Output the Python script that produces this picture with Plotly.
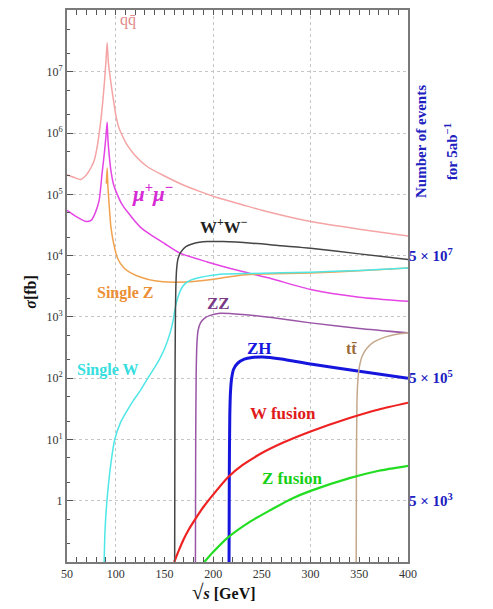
import math
import plotly.graph_objects as go

# ---------------- data ----------------
qq_x = [50, 57, 64, 70, 75, 78, 81, 84, 86.5, 88.5, 90, 91.2, 92.5, 94, 96, 98, 100, 103, 107, 112, 119, 133, 150, 170, 186, 204, 230, 250, 300, 350, 400]
qq_y = [2.1e5, 1.9e5, 1.75e5, 2.1e5, 2.8e5, 3.6e5, 6e5, 1.3e6, 3e6, 7e6, 1.5e7, 3e7, 1.4e7, 8.9e6, 5.2e6, 3.2e6, 2.0e6, 1.26e6, 8.9e5, 6.3e5, 4.5e5, 2.8e5, 2.0e5, 1.41e5, 1.12e5, 8.9e4, 6.8e4, 5.5e4, 3.6e4, 2.7e4, 2.1e4]

mm_x = [50, 60, 70, 75, 79, 83, 86, 88.5, 90, 91.2, 92, 93, 95, 98, 101, 106, 112, 125, 135, 150, 166, 194, 228, 260, 300, 350, 400]
mm_y = [5.5e4, 4.3e4, 3.6e4, 3.8e4, 5e4, 8e4, 2.2e5, 5e5, 9e5, 1.5e6, 7.9e5, 5e5, 2.5e5, 1.41e5, 1.05e5, 7.1e4, 5.2e4, 2.95e4, 2.24e4, 1.58e4, 1.1e4, 7.9e3, 5.6e3, 4.2e3, 2.8e3, 2.1e3, 1.8e3]

sz_x = [90.4, 91.2, 92, 93, 95, 98, 102, 108.5, 115, 125, 140, 160, 180, 204, 228, 250, 300, 350, 400]
sz_y = [1.5e5, 2.7e5, 1.3e5, 7.8e4, 3e4, 1.55e4, 9e3, 6.3e3, 5.3e3, 4.5e3, 3.9e3, 3.7e3, 3.8e3, 4.2e3, 4.8e3, 5.0e3, 5.2e3, 5.7e3, 6.3e3]

sw_x = [88, 89, 91, 95, 99, 105, 112, 118, 125, 132, 140, 145, 150, 156, 159, 161, 164, 167, 171, 177, 185, 195, 210, 240, 300, 350, 400]
sw_y = [0.08, 0.32, 1.0, 4.0, 10, 19, 30, 43, 62, 95, 150, 205, 300, 560, 890, 1410, 2140, 2820, 3470, 3980, 4370, 4680, 5010, 5130, 5370, 5750, 6310]

ww_x = [160.5, 160.8, 161.2, 161.7, 162.5, 164, 167, 172, 180, 194, 210, 240, 270, 300, 350, 400]
ww_y = [0.08, 50, 800, 3000, 6000, 9000, 1.15e4, 1.4e4, 1.58e4, 1.7e4, 1.7e4, 1.6e4, 1.45e4, 1.32e4, 1.07e4, 8.7e3]

zz_x = [181.8, 182.1, 182.6, 183.3, 184.5, 187, 191, 197, 207, 230, 260, 300, 350, 400]
zz_y = [0.08, 10, 120, 350, 600, 800, 950, 1060, 1150, 1100, 980, 800, 650, 550]

zh_x = [216.3, 216.6, 217.1, 217.8, 219, 221, 225, 232, 240, 251, 270, 300, 350, 400]
zh_y = [0.08, 3, 25, 60, 100, 140, 175, 205, 218, 222, 205, 170, 130, 100]

tt_x = [346.8, 347.1, 347.6, 348.5, 350, 353, 358, 365, 375, 390, 400]
tt_y = [0.08, 5, 40, 90, 150, 230, 310, 390, 460, 525, 550]

wf_x = [160, 165, 170, 175, 180, 190, 200, 215, 230, 250, 272, 300, 340, 370, 400]
wf_y = [0.1, 0.158, 0.24, 0.34, 0.457, 0.79, 1.26, 2.4, 3.8, 6.0, 8.9, 13.5, 22.4, 30.9, 39.8]

zf_x = [191, 200, 215, 238, 260, 280, 300, 340, 370, 400]
zf_y = [0.1, 0.145, 0.25, 0.457, 0.72, 1.07, 1.45, 2.34, 3.09, 3.72]

y_tickvals = [1, 10, 100, 1e3, 1e4, 1e5, 1e6, 1e7]
y_ticktext = ["1", "10<sup>1</sup>", "10<sup>2</sup>", "10<sup>3</sup>", "10<sup>4</sup>",
              "10<sup>5</sup>", "10<sup>6</sup>", "10<sup>7</sup>"]
x_tickvals = [50, 100, 150, 200, 250, 300, 350, 400]
x_gridvals = [100, 200, 300]
lumi = 5000  # fb^-1  (5 ab^-1)
y2_tickvals = [5e3, 5e5, 5e7]
y2_ticktext = ["<b>5 × 10<sup>3</sup></b>", "<b>5 × 10<sup>5</sup></b>", "<b>5 × 10<sup>7</sup></b>"]

# ---------------- figure ----------------
SERIF = "Liberation Serif, Times New Roman, serif"
fig = go.Figure()

series = [
    (qq_x, qq_y, "#f4a4a4", 1.5),
    (mm_x, mm_y, "#e445e4", 1.5),
    (sz_x, sz_y, "#f0a24e", 1.5),
    (sw_x, sw_y, "#4ee6e6", 1.5),
    (ww_x, ww_y, "#454545", 1.5),
    (zz_x, zz_y, "#9a55a6", 1.5),
    (zh_x, zh_y, "#1515dd", 3),
    (tt_x, tt_y, "#c4a88c", 1.5),
    (wf_x, wf_y, "#ee2222", 2.2),
    (zf_x, zf_y, "#22dd22", 2.2),
]
for xs, ys, col, w in series:
    fig.add_trace(go.Scatter(x=xs, y=ys, mode="lines",
                             line=dict(color=col, width=w, shape="spline", smoothing=0.6),
                             showlegend=False, hoverinfo="skip"))

# secondary axis trace (invisible) for event numbers
fig.add_trace(go.Scatter(x=[50], y=[1e3], yaxis="y2", mode="markers",
                         marker=dict(opacity=0), showlegend=False, hoverinfo="skip"))
# overlay axis for vertical grid
fig.add_trace(go.Scatter(x=[100], y=[1], xaxis="x2", mode="markers",
                         marker=dict(opacity=0), showlegend=False, hoverinfo="skip"))

labels = [
    ("qq̄", 113, 7.85, "#e08a8a", 16, False),
    ("<i>μ</i><sup>+</sup><i>μ</i><sup>−</sup>", 138, 5.03, "#d62ad6", 21, True),
    ("W<sup>+</sup>W<sup>−</sup>", 211, 4.48, "#222222", 17, True),
    ("Single Z", 109.5, 3.39, "#ec8e34", 16, True),
    ("ZZ", 206, 3.22, "#7a3a86", 17, True),
    ("Single W", 92, 2.13, "#36dede", 16, True),
    ("ZH", 248, 2.49, "#1515dd", 17, True),
    ("tt̄", 342.5, 2.48, "#9a6a3a", 16, True),
    ("W fusion", 272, 1.42, "#e01a1a", 17, True),
    ("Z fusion", 281, 0.36, "#16d016", 17, True),
]
for txt, x, ly, col, sz, bold in labels:
    fig.add_annotation(x=x, y=ly, xref="x", yref="y",
                       text=("<b>%s</b>" % txt) if bold else txt, showarrow=False,
                       xanchor="center", yanchor="middle",
                       font=dict(family=SERIF, size=sz, color=col))

# axis titles
fig.add_annotation(xref="paper", yref="paper", x=-0.108, y=0.49, textangle=-90,
                   xanchor="center", yanchor="middle",
                   text="<b><i>σ</i>[fb]</b>", showarrow=False,
                   font=dict(family=SERIF, size=16, color="#111111"))
fig.add_annotation(xref="paper", yref="paper", x=0.46, y=-0.055,
                   xanchor="center", yanchor="middle",
                   text="<b><span style='font-size:21px'>√</span><i>s</i> [GeV]</b>",
                   showarrow=False, font=dict(family=SERIF, size=16, color="#111111"))
fig.add_annotation(xref="paper", yref="paper", x=1.04, y=0.762, textangle=-90,
                   xanchor="center", yanchor="middle",
                   text="<b>Number of events</b>", showarrow=False,
                   font=dict(family=SERIF, size=15, color="#2020c0"))
fig.add_annotation(xref="paper", yref="paper", x=1.126, y=0.744, textangle=-90,
                   xanchor="center", yanchor="middle",
                   text="<b>for 5ab<sup>−1</sup></b>", showarrow=False,
                   font=dict(family=SERIF, size=15, color="#2020c0"))

axis_line = "#7a7a7a"
# page body has an 8px margin, so the figure is sized/offset to place the plot area as in the reference
fig.update_layout(
    width=485, height=601,
    margin=dict(l=59, r=85, t=0, b=47),
    paper_bgcolor="white", plot_bgcolor="white",
    xaxis=dict(range=[50, 400], tickvals=x_tickvals, showgrid=False, zeroline=False,
               showline=True, linecolor=axis_line, linewidth=2, mirror="allticks",
               ticks="inside", ticklen=5, tickcolor="#555",
               minor=dict(dtick=10, tick0=50, ticks="inside", ticklen=3, tickcolor="#555", showgrid=False),
               tickfont=dict(family=SERIF, size=12, color="#333")),
    xaxis2=dict(range=[50, 400], overlaying="x", tickvals=x_gridvals, showgrid=True,
                gridcolor="#c6c6c6", griddash="dot", gridwidth=1,
                showticklabels=False, ticks="", showline=False, zeroline=False),
    yaxis=dict(type="log", range=[-1, 8.01], tickvals=y_tickvals, ticktext=y_ticktext,
               showgrid=True, gridcolor="#c6c6c6", griddash="dot", gridwidth=1,
               zeroline=False, showline=True, linecolor=axis_line, linewidth=2, mirror=True,
               ticks="inside", ticklen=6, tickcolor="#555",
               minor=dict(ticks="inside", ticklen=3, tickcolor="#555", showgrid=False),
               tickfont=dict(family=SERIF, size=12, color="#333")),
    yaxis2=dict(type="log", overlaying="y", side="right",
                range=[-1 + math.log10(lumi), 8.01 + math.log10(lumi)],
                tickvals=y2_tickvals, ticktext=y2_ticktext, showgrid=False, showline=False,
                ticks="", zeroline=False,
                tickfont=dict(family=SERIF, size=15, color="#2020c0")),
)

fig.write_html("out.html")
